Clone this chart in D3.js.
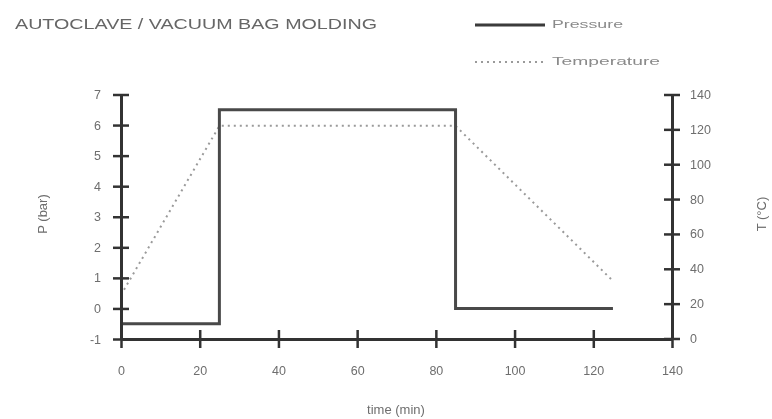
<!DOCTYPE html>
<html>
<head>
<meta charset="utf-8">
<script src="https://cdn.jsdelivr.net/npm/d3@7"></script>
<style>
  body { margin: 0; background: #fff; }
  svg { display: block; font-family: "Liberation Sans", Arial, sans-serif; }
</style>
</head>
<body>
<div id="chart"></div>
<script>
// data
let pressureTime = [0, 25, 25, 85, 85, 125];
let pressureBar = [-0.5, -0.5, 6.5, 6.5, 0, 0];
let tempTime = [0, 25, 85, 125];
let tempC = [25, 122, 122, 33];
let timeTicks = [0, 20, 40, 60, 80, 100, 120, 140];
let pTicks = [-1, 0, 1, 2, 3, 4, 5, 6, 7];
let tTicks = [0, 20, 40, 60, 80, 100, 120, 140];

let W = 772, H = 419;
let svg = d3.select("#chart").append("svg").attr("width", W).attr("height", H);

let defs = svg.append("defs");
defs.append("filter").attr("id", "soft")
  .append("feGaussianBlur").attr("stdDeviation", 0.45);

let g = svg.append("g").attr("filter", "url(#soft)");

let x = d3.scaleLinear().domain([0, 140]).range([121, 672]);
let yP = d3.scaleLinear().domain([-1, 7]).range([339, 94.5]);
let yT = d3.scaleLinear().domain([0, 140]).range([338.5, 94.5]);

let textCol = "#6e6e6e";
let axisCol = "#333";
let plain = function(d){ return String(d); };

// temperature (dotted)
let tLine = d3.line().x(function(d){ return x(d[0]); }).y(function(d){ return yT(d[1]); });
g.append("path")
  .attr("fill", "none")
  .attr("stroke", "#9a9a9a")
  .attr("stroke-width", 2)
  .attr("stroke-dasharray", "2,4")
  .attr("d", tLine(d3.zip(tempTime, tempC)));

// pressure (solid)
let pLine = d3.line().x(function(d){ return x(d[0]); }).y(function(d){ return yP(d[1]); });
g.append("path")
  .attr("fill", "none")
  .attr("stroke", "#4a4a4a")
  .attr("stroke-width", 3)
  .attr("d", pLine(d3.zip(pressureTime, pressureBar)));

// axes
function styleAxis(sel, crossX) {
  sel.select(".domain").attr("stroke", axisCol).attr("stroke-width", 3);
  sel.selectAll(".tick line").attr("stroke", axisCol).attr("stroke-width", 2.5);
  if (crossX) sel.selectAll(".tick line").attr("x1", -8).attr("x2", 8);
  else sel.selectAll(".tick line").attr("y1", -9).attr("y2", 9);
  sel.selectAll(".tick text").attr("fill", textCol).attr("font-size", 12.5);
}

let xAxis = g.append("g").attr("transform", "translate(0," + yP(-1) + ")")
  .call(d3.axisBottom(x).tickValues(timeTicks).tickFormat(plain)
    .tickSizeInner(9).tickSizeOuter(0).tickPadding(18));
styleAxis(xAxis, false);

let leftAxis = g.append("g").attr("transform", "translate(" + x(0) + ",0)")
  .call(d3.axisLeft(yP).tickValues(pTicks).tickFormat(plain)
    .tickSizeInner(8).tickSizeOuter(0).tickPadding(12));
styleAxis(leftAxis, true);

let rightAxis = g.append("g").attr("transform", "translate(" + x(140) + ",0)")
  .call(d3.axisRight(yT).tickValues(tTicks).tickFormat(plain)
    .tickSizeInner(8).tickSizeOuter(0).tickPadding(10));
styleAxis(rightAxis, true);

// labels
g.append("text").attr("x", 15).attr("y", 29)
  .attr("font-size", 14).attr("fill", "#666")
  .attr("textLength", 362).attr("lengthAdjust", "spacingAndGlyphs")
  .text("AUTOCLAVE / VACUUM BAG MOLDING");

g.append("text").attr("x", 396).attr("y", 414)
  .attr("text-anchor", "middle").attr("font-size", 13).attr("fill", textCol)
  .text("time (min)");

g.append("text").attr("transform", "translate(47,214) rotate(-90)")
  .attr("text-anchor", "middle").attr("font-size", 13).attr("fill", textCol)
  .text("P (bar)");

g.append("text").attr("transform", "translate(766,214) rotate(-90)")
  .attr("text-anchor", "middle").attr("font-size", 13).attr("fill", textCol)
  .text("T (°C)");

// legend
let legend = [
  {name: "Pressure", y: 25, dash: null, col: "#3a3a3a", w: 3, len: 71},
  {name: "Temperature", y: 62, dash: "2,4", col: "#9a9a9a", w: 2, len: 108}
];
let lg = g.selectAll("g.leg").data(legend).enter().append("g").attr("class", "leg");
lg.append("line")
  .attr("x1", 475).attr("x2", 545)
  .attr("y1", function(d){ return d.y; }).attr("y2", function(d){ return d.y; })
  .attr("stroke", function(d){ return d.col; })
  .attr("stroke-width", function(d){ return d.w; })
  .attr("stroke-dasharray", function(d){ return d.dash; });
lg.append("text")
  .attr("x", 552).attr("y", function(d){ return d.y + 3; })
  .attr("font-size", 10).attr("fill", "#8a8a8a")
  .attr("textLength", function(d){ return d.len; }).attr("lengthAdjust", "spacingAndGlyphs")
  .text(function(d){ return d.name; });
</script>
</body>
</html>
